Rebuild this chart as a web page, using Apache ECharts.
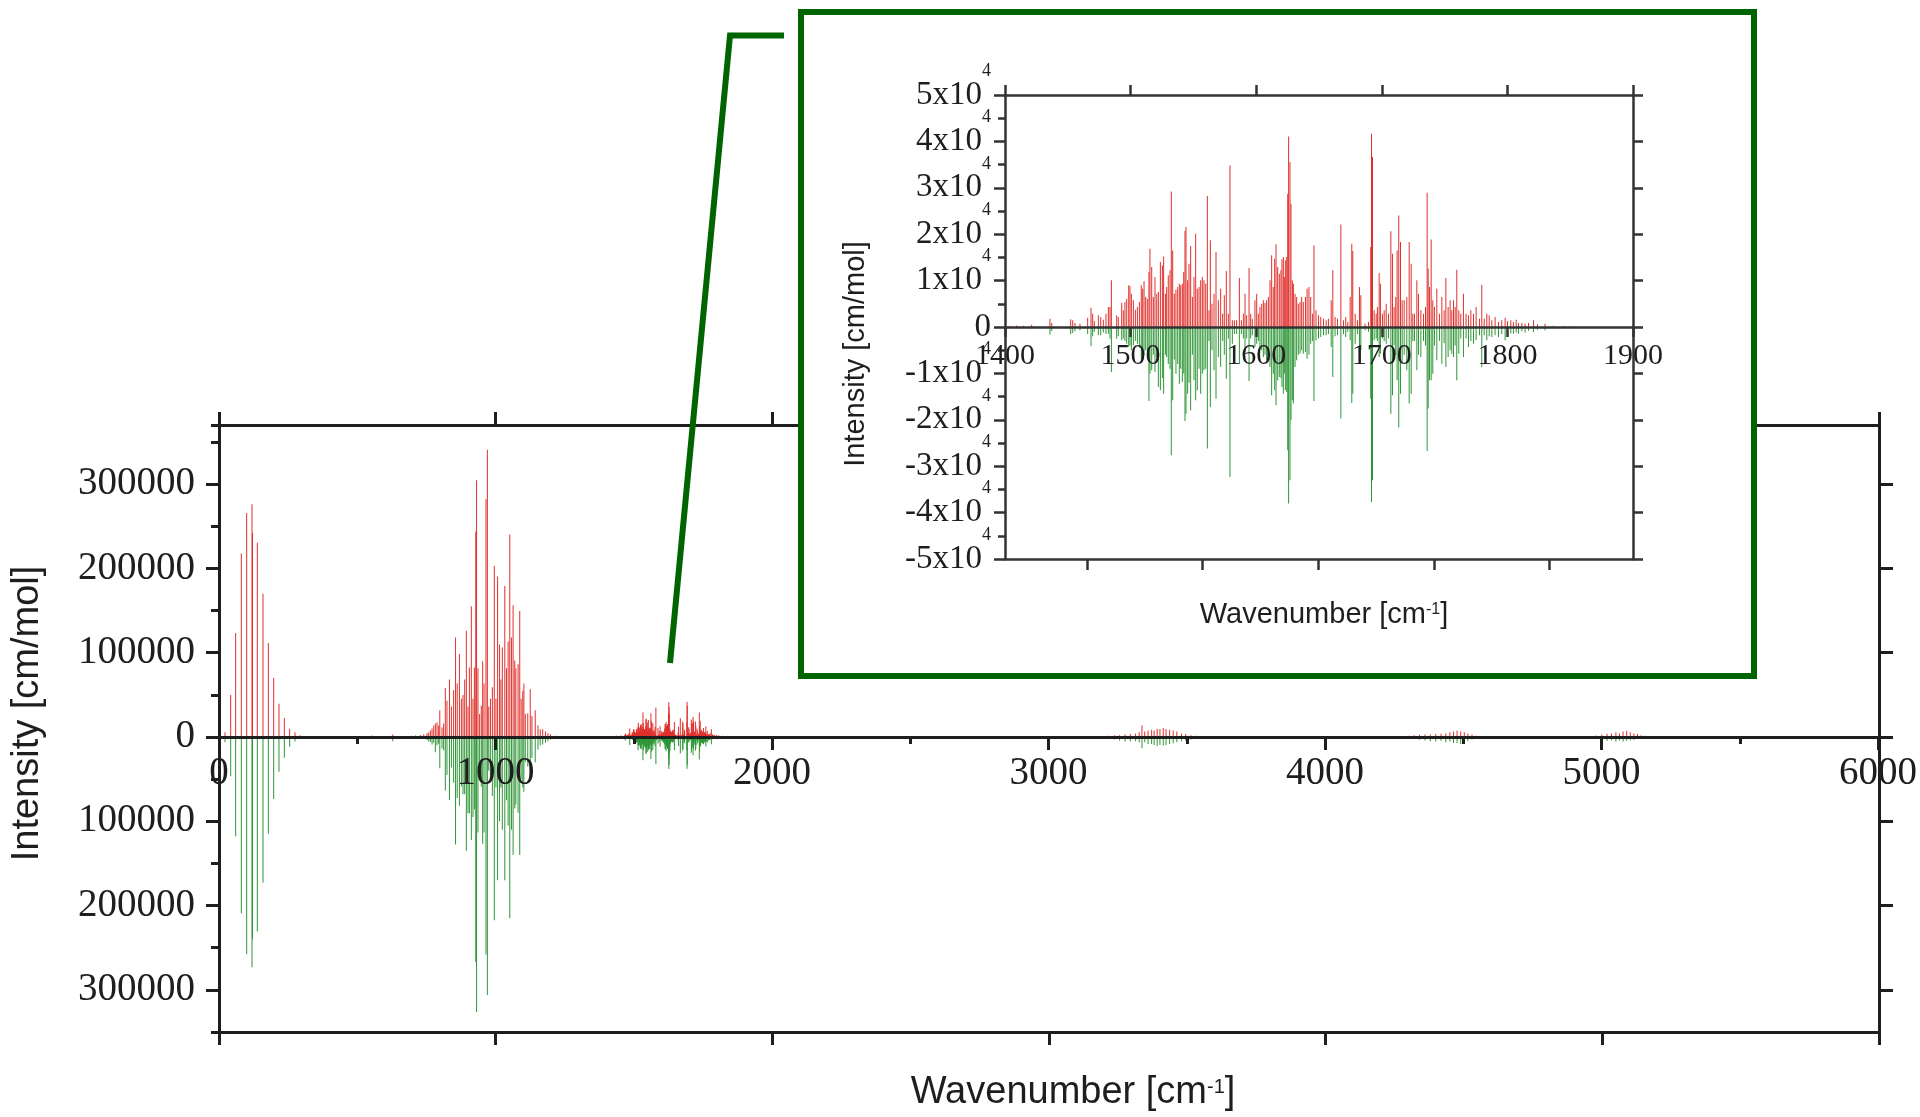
<!DOCTYPE html>
<html>
<head>
<meta charset="utf-8">
<script src="https://cdn.jsdelivr.net/npm/echarts@6/dist/echarts.min.js"></script>
<style>
html,body{margin:0;padding:0;background:#fff;}
#chart{width:1920px;height:1117px;}
</style>
</head>
<body>
<div id="chart"></div>
<script>
// ---------- DATA (wavenumber in cm-1, intensity in cm/mol) ----------
// Region 0-300 cm-1
const lowPos   = [21.7, 42.2, 60.2, 80.7, 100.0, 119.3, 121.0, 138.5, 159.0, 178.3, 197.6, 216.8, 236.1, 255.4, 274.7, 292.7];
const lowRed   = [5500, 49700, 123200, 217500, 265500, 276100, 242000, 230200, 169900, 111300, 70100, 39500, 22500, 9800, 5500, 2100];
const lowGreen = [-6400, -46700, -117700, -209000, -257900, -273200, -240000, -230700, -172900, -114700, -73500, -41200, -24600, -11500, -5500, -1300];

// Region 500-700 cm-1
const midPos   = [530, 552, 582, 605, 628, 650, 668];
const midRed   = [800, 1600, 1200, 900, 2800, 900, 1200];
const midGreen = [-600, -1200, -1500, -800, -5000, -1000, -1500];

// Region 700-1250 cm-1
const bigPos = [695, 710, 728, 740, 752, 758, 764, 770, 776, 782, 788, 794, 798, 806, 812, 818, 824, 833, 840, 848,
  855, 861, 869, 876, 882, 888, 894, 900, 905, 912, 918, 923, 928, 931, 936, 942, 948, 953, 958, 965,
  970, 975, 981, 988, 995, 1001, 1007, 1014, 1019, 1024, 1033, 1039, 1045, 1051, 1057, 1063, 1069, 1073, 1081, 1087,
  1092, 1098, 1102, 1107, 1116, 1125, 1131, 1143, 1153, 1161, 1170, 1180, 1189, 1198, 1216];
const bigRed = [1400, 1800, 2300, 3200, 4500, 5400, 7700, 10000, 13600, 15900, 17200, 13600, 31700, 11300, 15900, 58000, 43000, 68000, 36200, 55300,
  117800, 63400, 98300, 45300, 49800, 68000, 125900, 36200, 82400, 154900, 45300, 82400, 243700, 304400, 81500, 27200, 37100, 89700, 63400, 281800,
  340700, 36200, 45300, 58900, 203000, 45300, 190300, 109600, 68000, 106000, 178900, 81500, 113300, 240100, 117800, 156300, 90600, 81500, 86100, 149500,
  45300, 54400, 63400, 27200, 28100, 56600, 24900, 31700, 13600, 9100, 9100, 6800, 4500, 3200, 1400];
const bigGreen = [-2000, -1500, -2000, -2500, -3500, -5400, -6000, -9100, -6800, -18100, -10000, -8000, -37100, -13600, -15900, -63400, -45300, -74700, -36200, -54400,
  -127700, -72500, -81500, -58900, -68000, -68000, -134900, -90600, -90600, -122300, -95100, -86100, -267300, -326200, -113300, -45300, -58900, -126800, -113300, -258000,
  -306000, -40000, -50000, -70000, -217400, -60000, -170000, -100000, -60000, -110000, -170000, -75000, -105000, -215000, -110000, -140000, -85000, -80000, -90000, -140000,
  -50000, -60000, -65000, -30000, -35000, -50000, -25000, -30000, -15000, -10000, -9000, -7000, -5000, -3000, -1500];

// Region 1400-1900 cm-1 (shown enlarged in the inset)
const insetPos = [1404.0, 1409.3, 1414.6, 1421.2, 1435.8, 1437.2, 1452.3, 1453.9, 1455.7, 1459.7,
  1465.8, 1468.5, 1469.8, 1471.1, 1474.3, 1476.2, 1478.3, 1480.4, 1482.3, 1483.6,
  1484.7, 1488.9, 1490.2, 1492.9, 1494.2, 1495.5, 1496.9, 1498.5, 1499.5, 1500.6,
  1502.2, 1503.8, 1505.4, 1507.0, 1508.5, 1509.6, 1510.7, 1512.0, 1513.3, 1514.6,
  1515.4, 1516.8, 1518.1, 1519.4, 1520.8, 1522.1, 1523.7, 1525.3, 1526.3, 1527.7,
  1528.7, 1530.0, 1531.4, 1532.4, 1533.5, 1534.8, 1536.1, 1537.5, 1538.8, 1539.9,
  1541.2, 1542.3, 1543.3, 1544.1, 1545.4, 1546.5, 1547.8, 1549.2, 1550.5, 1551.8,
  1553.1, 1554.5, 1555.8, 1557.1, 1558.4, 1559.8, 1561.1, 1562.4, 1563.5, 1564.8,
  1566.4, 1568.0, 1569.9, 1571.7, 1573.3, 1574.6, 1576.2, 1577.8, 1579.1, 1581.0,
  1582.6, 1584.4, 1586.6, 1588.2, 1589.8, 1591.1, 1592.4, 1594.3, 1595.6, 1596.9,
  1599.0, 1600.4, 1601.7, 1603.0, 1604.4, 1605.7, 1607.0, 1608.3, 1609.7, 1611.0,
  1612.3, 1613.6, 1614.7, 1615.8, 1617.1, 1618.4, 1619.7, 1620.5, 1621.6, 1622.4,
  1623.2, 1624.3, 1625.1, 1625.8, 1626.9, 1627.7, 1628.8, 1629.6, 1630.9, 1632.2,
  1633.5, 1634.9, 1636.2, 1637.5, 1639.2, 1640.5, 1642.0, 1643.4, 1644.9, 1646.0,
  1647.6, 1649.6, 1651.4, 1653.6, 1655.7, 1657.5, 1659.7, 1661.0, 1662.8, 1664.7,
  1667.4, 1669.5, 1671.3, 1672.9, 1674.8, 1676.1, 1676.9, 1678.8, 1680.6, 1682.2,
  1683.3, 1686.7, 1689.4, 1691.2, 1691.8, 1692.6, 1693.9, 1695.5, 1696.5, 1697.9,
  1698.9, 1700.5, 1701.9, 1703.5, 1705.3, 1707.2, 1708.5, 1709.8, 1711.1, 1712.2,
  1713.5, 1714.9, 1716.2, 1717.8, 1719.9, 1721.8, 1723.4, 1724.7, 1726.0, 1727.9,
  1729.2, 1731.1, 1733.2, 1734.8, 1736.1, 1736.9, 1738.0, 1739.3, 1740.6, 1741.9,
  1743.8, 1745.9, 1747.8, 1749.6, 1751.0, 1752.8, 1754.4, 1755.7, 1757.1, 1758.4,
  1759.7, 1761.3, 1762.9, 1765.0, 1767.1, 1769.0, 1770.9, 1773.0, 1775.1, 1777.8,
  1779.6, 1781.5, 1783.6, 1785.5, 1787.6, 1790.2, 1792.9, 1795.5, 1798.2, 1800.1,
  1802.7, 1804.8, 1807.0, 1808.8, 1811.5, 1814.1, 1816.8, 1820.8, 1823.9, 1830.0,
  1836.7, 1844.6, 1852.6];
const insetRed = [200, 300, 250, 500, 1800, 860, 1650, 1440, 860, 720,
  2010, 4160, 2870, 1290, 2510, 2150, 1580, 2870, 4310, 4310,
  10050, 2510, 2150, 5170, 3590, 5390, 6100, 8980, 8760, 7180,
  5740, 3730, 4310, 5390, 8980, 8260, 9840, 6460, 6100, 11850,
  16870, 12920, 6460, 10770, 7180, 7540, 14000, 13280, 15220, 7180,
  8620, 11130, 12210, 29220, 16510, 7180, 8040, 8620, 9330, 8980,
  9330, 11850, 20680, 21540, 10050, 13640, 17450, 6460, 10770, 20100,
  8260, 8620, 10050, 10770, 10050, 9330, 28220, 3590, 18670, 5030,
  7180, 16160, 5740, 8260, 2870, 6820, 12060, 2870, 34820, 1440,
  1440, 1440, 10550, 1440, 2870, 7180, 2510, 12710, 2870, 1800,
  5740, 7180, 2870, 4310, 5030, 5740, 5170, 5740, 6460, 10050,
  15440, 8620, 14720, 17810, 12920, 11490, 12210, 14580, 15080, 10770,
  14360, 15080, 28720, 41070, 35540, 26570, 10050, 9330, 7180, 6460,
  5030, 5390, 6460, 5390, 6460, 8260, 8620, 6460, 2870, 17590,
  3590, 2510, 2150, 1800, 1440, 1800, 5740, 12210, 2150, 1800,
  22110, 1440, 2150, 1080, 6460, 17950, 16370, 2870, 1440, 8620,
  6820, 720, 1080, 17230, 41640, 36620, 3590, 2870, 4310, 11630,
  9330, 2870, 3590, 5030, 2870, 20610, 15800, 4310, 6460, 16510,
  24050, 18310, 5740, 5740, 6460, 18310, 13640, 2870, 2870, 10050,
  7180, 3590, 2870, 4310, 28940, 12570, 8620, 18880, 5740, 4310,
  8260, 2870, 6460, 3590, 10550, 4310, 5740, 3590, 5740, 4310,
  12350, 3590, 2870, 7180, 2870, 2510, 3590, 2870, 4310, 1800,
  9120, 1800, 2870, 2510, 1440, 2150, 1080, 1440, 2010, 1290,
  1440, 1080, 1580, 860, 860, 720, 860, 1440, 570, 720,
  290, 215, 140];
const insetGreen = [-200, -200, -300, -400, -1600, -860, -1580, -1300, -900, -700,
  -1500, -4160, -2000, -1000, -1800, -1800, -1200, -1500, -1440, -2500,
  -9690, -2510, -2000, -2870, -2500, -3000, -3590, -4310, -4000, -5030,
  -4000, -3000, -3590, -4500, -6820, -6000, -6100, -5000, -5500, -15940,
  -10050, -9330, -6000, -9690, -6500, -12920, -13640, -11000, -14360, -6000,
  -6460, -8000, -9000, -27640, -15800, -7000, -10050, -8000, -12210, -9000,
  -11850, -10000, -20250, -18670, -14360, -12000, -17950, -6000, -11490, -15800,
  -13640, -9000, -14360, -10050, -9330, -9000, -26210, -3000, -17230, -5000,
  -9330, -15440, -6460, -8620, -3000, -6000, -11130, -2500, -32310, -3590,
  -1500, -1500, -7900, -1500, -2500, -5390, -2500, -11630, -2500, -1800,
  -4310, -3590, -3000, -4310, -5000, -6460, -6000, -7180, -6500, -8620,
  -14720, -10050, -13640, -16870, -11490, -10770, -11000, -12920, -14360, -10000,
  -13640, -14000, -26570, -38050, -33030, -20100, -15800, -16510, -8620, -7180,
  -6000, -5740, -5000, -5740, -5390, -6820, -6000, -3590, -3000, -15940,
  -2870, -2500, -2150, -1800, -1800, -1500, -4310, -10770, -2000, -1800,
  -19740, -1500, -2150, -1000, -2870, -16370, -14360, -3590, -1500, -7540,
  -5030, -700, -1000, -15440, -37700, -33030, -2870, -2500, -3000, -6460,
  -5740, -2500, -3000, -3590, -2500, -18670, -14720, -4000, -6000, -11490,
  -21680, -14360, -7900, -6000, -9330, -16510, -14360, -3000, -3000, -9330,
  -6000, -6460, -3000, -4000, -26710, -17590, -11490, -11490, -10050, -4000,
  -7180, -3000, -7900, -3500, -8620, -6460, -5000, -5740, -6460, -4000,
  -11490, -5740, -2500, -6460, -2500, -4310, -3000, -3590, -2870, -1800,
  -8620, -1800, -2870, -2000, -2150, -1800, -2150, -1500, -2870, -1800,
  -1400, -1440, -1200, -1440, -900, -1220, -800, -1080, -600, -720,
  -300, -200, -150];

// Regions 3200-3550, 4300-4550 and 4950-5160 cm-1
const hiPos = [3213, 3236, 3255, 3275, 3294, 3313, 3326, 3336, 3346, 3358, 3371, 3380, 3391, 3401, 3413, 3423, 3436, 3449, 3462, 3479, 3494, 3513, 3530,
  4301, 4320, 4339, 4359, 4378, 4398, 4417, 4434, 4449, 4462, 4475, 4488, 4501, 4514, 4529, 4542,
  4959, 4978, 4998, 5017, 5033, 5049, 5062, 5075, 5088, 5101, 5114, 5127, 5140, 5153];
const hiRed = [1300, 2100, 2100, 3000, 3400, 4200, 5500, 13500, 6300, 7200, 8500, 7600, 9700, 9300, 10600, 9300, 8500, 7600, 6300, 4200, 3400, 2100, 1300,
  1300, 2100, 2500, 3000, 3000, 3400, 3800, 4200, 5500, 6300, 7200, 6300, 5500, 4200, 3000, 1300,
  800, 1700, 3000, 3800, 4200, 5500, 4200, 6300, 7200, 5500, 4200, 3400, 2100, 1300];
const hiGreen = [-2100, -3000, -4200, -5500, -5500, -5100, -6300, -13500, -6300, -8500, -8500, -9700, -10600, -9700, -10600, -9700, -8500, -7600, -6300, -5100, -4200, -3000, -2100,
  -1300, -2100, -3400, -4200, -5500, -5500, -4600, -6300, -5500, -7200, -7200, -8500, -6300, -5100, -3000, -1300,
  -800, -2100, -4200, -4600, -3800, -5500, -4200, -5500, -4600, -3800, -3400, -2500, -1700, -800];

// Axis ranges and tick values
const mainXRange = [0, 6000];
const mainYRange = [-350000, 370000];
const mainYTicks = [-300000, -200000, -100000, 0, 100000, 200000, 300000];
const insetXRange = [1400, 1900];
const insetYRange = [-50000, 50000];
const insetYLabelsOdd = [-50000, -30000, -10000, 10000, 30000, 50000];
const insetYLabelsEven = [-40000, -20000, 0, 20000, 40000];
const insetBottomTicks = [1465.4, 1557.4, 1649.4, 1741.4, 1833.4];

// ---------- LAYOUT ----------
const MAIN = {left: 219, top: 425, width: 1660, height: 607};
const INSET = {left: 1005, top: 95, width: 628, height: 464};
// height of the part of each plot that lies above its zero line (where the zero axis is drawn)
const mainZeroH = MAIN.height * mainYRange[1] / (mainYRange[1] - mainYRange[0]);
const insetZeroH = INSET.height * insetYRange[1] / (insetYRange[1] - insetYRange[0]);

const SERIF = "'Liberation Serif', 'Times New Roman', serif";
const SANS = "'Liberation Sans', Arial, sans-serif";
const INK = '#1e1e1e';
const INK2 = '#333333';
const RED = '#e0302c';
const GREEN = '#2e9636';
const BOX = '#006400';

function pairs(p, v) { return p.map((x, i) => [x, v[i]]); }

const mainRed = [].concat(pairs(lowPos, lowRed), pairs(midPos, midRed), pairs(bigPos, bigRed), pairs(insetPos, insetRed), pairs(hiPos, hiRed));
const mainGreen = [].concat(pairs(lowPos, lowGreen), pairs(midPos, midGreen), pairs(bigPos, bigGreen), pairs(insetPos, insetGreen), pairs(hiPos, hiGreen));

const chart = echarts.init(document.getElementById('chart'), null, {renderer: 'canvas'});

function line(color, w) { return {show: true, onZero: false, lineStyle: {color: color, width: w}}; }
function tick(color, w, len, extra) { return Object.assign({show: true, length: len, lineStyle: {color: color, width: w}}, extra || {}); }
function off() { return {show: false}; }
function insetYLabel(values) {
  return {show: true, customValues: values, margin: 14, color: INK, showMinLabel: true, showMaxLabel: true,
    formatter: v => v === 0 ? '{b|0}' : '{b|' + (v / 10000) + 'x10}{s|4}',
    rich: {
      b: {fontFamily: SERIF, fontSize: 33, lineHeight: 33, color: INK, verticalAlign: 'middle'},
      s: {fontFamily: SERIF, fontSize: 18, lineHeight: 18, color: INK, padding: [0, 0, 48, 0], verticalAlign: 'middle'}
    }};
}

const option = {
  animation: false,
  backgroundColor: '#fff',
  grid: [
    Object.assign({}, MAIN),                                                     // 0 main plot
    Object.assign({zlevel: 1}, INSET),                                          // 1 inset plot
    {left: MAIN.left, top: MAIN.top, width: MAIN.width, height: mainZeroH},     // 2 main zero axis
    {left: INSET.left, top: INSET.top, width: INSET.width, height: insetZeroH, zlevel: 1} // 3 inset zero axis
  ],
  xAxis: [
    // 0: main data axis (hidden)
    {gridIndex: 0, type: 'value', min: mainXRange[0], max: mainXRange[1], interval: 1000, show: false},
    // 1: main top frame
    {gridIndex: 0, type: 'value', min: mainXRange[0], max: mainXRange[1], interval: 1000, position: 'top',
      axisLine: line(INK, 3), axisTick: tick(INK, 3, 13), axisLabel: off(), splitLine: off()},
    // 2: main bottom frame
    {gridIndex: 0, type: 'value', min: mainXRange[0], max: mainXRange[1], interval: 1000, position: 'bottom',
      axisLine: line(INK, 3), axisTick: tick(INK, 3, 13), axisLabel: off(), splitLine: off(),
      name: '{t|Wavenumber [cm}{s|-1}{t|]}', nameLocation: 'middle', nameGap: 42,
      nameTextStyle: {padding: [0, 0, 0, 48], rich: {
        t: {fontFamily: SANS, fontSize: 38, lineHeight: 38, color: INK, verticalAlign: 'middle'},
        s: {fontFamily: SANS, fontSize: 20, lineHeight: 20, color: INK, padding: [0, 0, 12, 0], verticalAlign: 'middle'}
      }}},
    // 3: inset data axis (hidden)
    {gridIndex: 1, type: 'value', min: insetXRange[0], max: insetXRange[1], interval: 100, show: false},
    // 4: inset top frame
    {gridIndex: 1, type: 'value', min: insetXRange[0], max: insetXRange[1], interval: 100, position: 'top', zlevel: 1, z: 12,
      axisLine: line(INK2, 2.5), axisTick: tick(INK2, 2.5, 10), axisLabel: off(), splitLine: off()},
    // 5: inset bottom frame
    {gridIndex: 1, type: 'value', min: insetXRange[0], max: insetXRange[1], interval: 100, position: 'bottom', zlevel: 1, z: 12,
      axisLine: line(INK2, 2.5), axisTick: tick(INK2, 2.5, 11, {customValues: insetBottomTicks}),
      axisLabel: off(), splitLine: off(),
      name: '{t|Wavenumber [cm}{s|-1}{t|]}', nameLocation: 'middle', nameGap: 41,
      nameTextStyle: {padding: [0, 0, 0, 10], rich: {
        t: {fontFamily: SANS, fontSize: 29, lineHeight: 29, color: INK, verticalAlign: 'middle'},
        s: {fontFamily: SANS, fontSize: 16, lineHeight: 16, color: INK, padding: [0, 0, 9, 0], verticalAlign: 'middle'}
      }}},
    // 6: main zero axis with labels
    {gridIndex: 2, type: 'value', min: mainXRange[0], max: mainXRange[1], interval: 1000, position: 'bottom', z: 3,
      axisLine: line(INK, 3), axisTick: tick(INK, 3, 13),
      minorTick: {show: true, splitNumber: 2, length: 7, lineStyle: {color: INK, width: 3}},
      axisLabel: {show: true, margin: 17, fontFamily: SERIF, fontSize: 39, color: INK,
        showMinLabel: true, showMaxLabel: true, formatter: v => String(v)},
      splitLine: off()},
    // 7: inset zero axis with labels
    {gridIndex: 3, type: 'value', min: insetXRange[0], max: insetXRange[1], interval: 100, position: 'bottom', zlevel: 1, z: 12,
      axisLine: line(INK2, 2.5), axisTick: tick(INK2, 2.5, 10),
      axisLabel: {show: true, margin: 14, fontFamily: SERIF, fontSize: 30, color: INK,
        showMinLabel: true, showMaxLabel: true, formatter: v => String(v)},
      splitLine: off()}
  ],
  yAxis: [
    // 0: main left axis with labels
    {gridIndex: 0, type: 'value', min: mainYRange[0], max: mainYRange[1], interval: 50000, position: 'left',
      axisLine: line(INK, 3),
      axisTick: tick(INK, 3, 13, {customValues: mainYTicks}),
      axisLabel: {show: true, customValues: mainYTicks, margin: 24, fontFamily: SERIF, fontSize: 39, color: INK,
        formatter: v => String(Math.abs(v))},
      splitLine: off(),
      name: 'Intensity [cm/mol]', nameLocation: 'middle', nameRotate: 90, nameGap: 172,
      nameTextStyle: {fontFamily: SANS, fontSize: 38, color: INK, padding: [0, 0, 0, 30]}},
    // 1: main left minor ticks
    {gridIndex: 0, type: 'value', min: mainYRange[0], max: mainYRange[1], interval: 50000, position: 'left',
      axisLine: {show: false, onZero: false}, axisTick: tick(INK, 3, 8), axisLabel: off(), splitLine: off()},
    // 2: main right frame
    {gridIndex: 0, type: 'value', min: mainYRange[0], max: mainYRange[1], interval: 50000, position: 'right',
      axisLine: line(INK, 3), axisTick: tick(INK, 3, 14, {customValues: mainYTicks}),
      axisLabel: off(), splitLine: off()},
    // 3: inset left axis (line, ticks, name)
    {gridIndex: 1, type: 'value', min: insetYRange[0], max: insetYRange[1], interval: 10000, position: 'left', zlevel: 1, z: 12,
      axisLine: line(INK2, 2.5), axisTick: tick(INK2, 2.5, 11),
      minorTick: {show: true, splitNumber: 2, length: 7, lineStyle: {color: INK2, width: 2.5}},
      axisLabel: off(), splitLine: off(),
      name: 'Intensity [cm/mol]', nameLocation: 'middle', nameRotate: 90, nameGap: 135,
      nameTextStyle: {fontFamily: SANS, fontSize: 29, color: INK, padding: [0, 54, 0, 0]}},
    // 4: inset right frame
    {gridIndex: 1, type: 'value', min: insetYRange[0], max: insetYRange[1], interval: 10000, position: 'right', zlevel: 1, z: 12,
      axisLine: line(INK2, 2.5), axisTick: tick(INK2, 2.5, 10), axisLabel: off(), splitLine: off()},
    // 5, 6: helper axes for the zero-line grids (hidden)
    {gridIndex: 2, type: 'value', min: 0, max: 1, show: false},
    {gridIndex: 3, type: 'value', min: 0, max: 1, show: false},
    // 7, 8: inset left labels, split over two axes so the tall superscript labels never collide
    {gridIndex: 1, type: 'value', min: insetYRange[0], max: insetYRange[1], interval: 10000, position: 'left', zlevel: 1, z: 12,
      axisLine: {show: false, onZero: false}, axisTick: off(), axisLabel: insetYLabel(insetYLabelsOdd), splitLine: off()},
    {gridIndex: 1, type: 'value', min: insetYRange[0], max: insetYRange[1], interval: 10000, position: 'left', zlevel: 1, z: 12,
      axisLine: {show: false, onZero: false}, axisTick: off(), axisLabel: insetYLabel(insetYLabelsEven), splitLine: off()}
  ],
  graphic: [
    {type: 'rect', zlevel: 1, z: 0, shape: {x: 801, y: 12, width: 953, height: 664},
      style: {fill: '#ffffff', stroke: BOX, lineWidth: 6}},
    {type: 'polyline', zlevel: 1, z: 1, shape: {points: [[670, 663], [730, 35.5], [784, 35.5]]},
      style: {stroke: BOX, lineWidth: 6, fill: null}}
  ],
  series: [
    {name: 'main+', type: 'bar', xAxisIndex: 0, yAxisIndex: 0, data: mainRed, barWidth: 1, barGap: '-100%',
      itemStyle: {color: RED}, z: 2, silent: true},
    {name: 'main-', type: 'bar', xAxisIndex: 0, yAxisIndex: 0, data: mainGreen, barWidth: 1, barGap: '-100%',
      itemStyle: {color: GREEN}, z: 2, silent: true},
    {name: 'inset+', type: 'bar', xAxisIndex: 3, yAxisIndex: 3, data: pairs(insetPos, insetRed), barWidth: 1, barGap: '-100%',
      itemStyle: {color: RED}, zlevel: 1, z: 10, silent: true},
    {name: 'inset-', type: 'bar', xAxisIndex: 3, yAxisIndex: 3, data: pairs(insetPos, insetGreen), barWidth: 1, barGap: '-100%',
      itemStyle: {color: GREEN}, zlevel: 1, z: 10, silent: true}
  ]
};
chart.setOption(option);
</script>
</body>
</html>
